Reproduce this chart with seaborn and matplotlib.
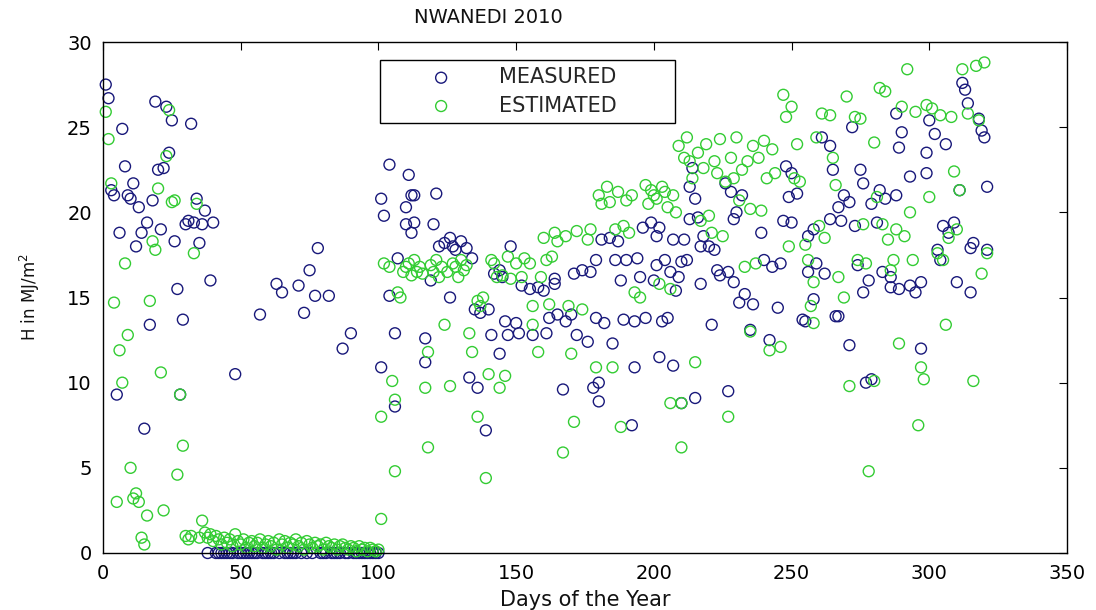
import numpy as np
import pandas as pd
import matplotlib
matplotlib.use("Agg")
import matplotlib.pyplot as plt
import seaborn as sns

# ---------------- data ----------------
title = "NWANEDI 2010"
series_names = ["MEASURED", "ESTIMATED"]
x_ticks = [0, 50, 100, 150, 200, 250, 300, 350]
y_ticks = [0, 5, 10, 15, 20, 25, 30]

# measured, days 1..37
meas_early_h = [27.5, 26.7, 21.3, 21.0, 9.3, 18.8, 24.9, 22.7, 21.0, 20.8,
                21.7, 18.0, 20.3, 18.8, 7.3, 19.4, 13.4, 20.7, 26.5, 22.5,
                19.0, 22.6, 26.2, 23.5, 25.4, 18.3, 15.5, 9.3, 13.7, 19.3,
                19.5, 25.2, 19.4, 20.8, 18.2, 19.3, 20.1]
# measured, days 38..100 (mostly zero)
meas_mid_h = [0, 16.0, 19.4, 0, 0, 0, 0, 0, 0, 0,
              10.5, 0, 0, 0, 0, 0, 0, 0, 0, 14.0,
              0, 0, 0, 0, 0, 15.8, 0, 15.3, 0, 0,
              0, 0, 0, 15.7, 0, 14.1, 0, 16.6, 0, 15.1,
              17.9, 0, 0, 0, 15.1, 0, 0, 0, 0, 12.0,
              0, 0, 12.9, 0, 0, 0, 0, 0, 0, 0,
              0, 0, 0]
# measured, days 101..321
meas_late_day = [101, 101, 102, 104, 104, 106, 106, 107, 110, 110,
                 111, 112, 113, 112, 113, 117, 117, 119, 120, 121,
                 122, 124, 126, 127, 128, 126, 130, 132, 133, 134,
                 135, 136, 137, 139, 140, 141, 142, 144, 144, 145,
                 146, 147, 148, 150, 151, 152, 155, 156, 158, 160,
                 161, 162, 164, 164, 165, 167, 168, 170, 171, 172,
                 174, 176, 177, 178, 179, 179, 180, 180, 181, 182,
                 184, 185, 186, 187, 188, 189, 190, 192, 193, 193,
                 194, 195, 196, 197, 199, 200, 201, 201, 202, 202,
                 203, 204, 205, 206, 207, 207, 208, 209, 210, 210,
                 211, 212, 213, 213, 214, 215, 215, 216, 217, 217,
                 218, 220, 221, 222, 223, 224, 226, 227, 227, 228,
                 229, 229, 230, 231, 232, 233, 235, 236, 239, 240,
                 242, 243, 245, 246, 247, 248, 249, 250, 250, 252,
                 254, 255, 256, 256, 258, 258, 259, 261, 262, 264,
                 264, 265, 266, 267, 267, 268, 269, 271, 271, 272,
                 273, 274, 275, 276, 276, 277, 278, 279, 279, 281,
                 282, 283, 284, 286, 286, 288, 288, 289, 289, 290,
                 293, 293, 295, 297, 297, 299, 299, 300, 302, 303,
                 304, 305, 306, 307, 309, 310, 311, 312, 313, 314,
                 315, 315, 316, 318, 319, 320, 321, 321]
meas_late_h = [10.9, 20.8, 19.8, 22.8, 15.1, 12.9, 8.6, 17.3, 20.3, 19.3,
               22.2, 21.0, 21.0, 18.8, 19.4, 12.6, 11.2, 16.0, 19.3, 21.1,
               18.0, 18.2, 18.5, 18.0, 17.8, 15.0, 18.3, 17.9, 10.3, 17.3,
               14.3, 9.7, 14.1, 7.2, 14.3, 12.8, 16.4, 16.6, 11.7, 16.2,
               13.6, 12.8, 18.0, 13.5, 12.9, 15.7, 15.5, 12.8, 15.6, 15.4,
               12.9, 13.8, 16.1, 15.8, 14.0, 9.6, 13.6, 14.0, 16.4, 12.8,
               16.6, 12.4, 16.5, 9.7, 17.2, 13.8, 10.0, 8.9, 18.4, 13.5,
               18.5, 12.3, 17.2, 18.3, 16.0, 13.7, 17.2, 7.5, 10.9, 13.6,
               17.3, 16.2, 19.1, 13.8, 19.4, 16.0, 18.6, 16.9, 19.1, 11.5,
               13.6, 17.2, 13.8, 16.5, 11.0, 18.4, 15.4, 16.2, 17.1, 8.8,
               18.4, 17.2, 19.6, 21.5, 22.6, 9.1, 20.8, 19.7, 15.8, 18.0,
               18.6, 18.0, 13.4, 17.8, 16.6, 16.3, 21.7, 9.5, 16.5, 21.2,
               19.6, 15.9, 20.0, 14.7, 21.0, 15.2, 13.1, 14.6, 18.8, 17.2,
               12.5, 16.8, 14.4, 17.0, 19.5, 22.7, 20.9, 22.3, 19.4, 21.1,
               13.7, 13.6, 18.6, 16.5, 19.0, 14.9, 17.0, 24.4, 16.4, 23.9,
               19.6, 22.5, 13.9, 20.3, 13.9, 19.5, 21.0, 20.6, 12.2, 25.0,
               19.2, 16.9, 22.5, 21.7, 15.3, 10.0, 16.0, 10.2, 20.5, 19.4,
               21.3, 16.5, 20.8, 15.6, 16.2, 25.8, 21.0, 15.5, 23.8, 24.7,
               22.1, 15.7, 15.3, 12.0, 15.9, 22.3, 23.5, 25.4, 24.6, 17.8,
               17.2, 19.2, 24.0, 18.8, 19.4, 15.9, 21.3, 27.6, 27.2, 26.4,
               17.9, 15.3, 18.2, 25.5, 24.8, 24.4, 21.5, 17.8]

# estimated, days 1..36
est_early_h = [25.9, 24.3, 21.7, 14.7, 3.0, 11.9, 10.0, 17.0, 12.8, 5.0,
               3.2, 3.5, 3.0, 0.9, 0.5, 2.2, 14.8, 18.3, 17.8, 21.4,
               10.6, 2.5, 23.3, 26.0, 20.6, 20.7, 4.6, 9.3, 6.3, 1.0,
               0.8, 1.0, 17.6, 20.5, 0.9, 1.9]
# estimated, days 37..100 (low band)
est_mid_h = [1.2, 0.9, 1.1, 0.7, 1.0, 0.8, 0.5, 0.9, 0.6, 0.8,
             0.4, 1.1, 0.7, 0.5, 0.8, 0.3, 0.6, 0.7, 0.4, 0.6,
             0.8, 0.3, 0.5, 0.7, 0.4, 0.6, 0.2, 0.8, 0.5, 0.7,
             0.3, 0.6, 0.5, 0.8, 0.4, 0.6, 0.2, 0.7, 0.5, 0.3,
             0.6, 0.4, 0.5, 0.2, 0.6, 0.4, 0.3, 0.5, 0.2, 0.4,
             0.5, 0.3, 0.2, 0.4, 0.3, 0.1, 0.4, 0.2, 0.3, 0.1,
             0.3, 0.2, 0.1, 0.2]
# estimated, days 101..321
est_late_day = [101, 101, 102, 104, 105, 106, 106, 107, 108, 109,
                110, 111, 112, 113, 114, 115, 116, 117, 118, 118,
                119, 120, 121, 122, 123, 124, 125, 126, 127, 128,
                129, 130, 131, 132, 133, 134, 136, 136, 137, 138,
                139, 140, 141, 142, 143, 144, 145, 146, 147, 148,
                150, 152, 153, 155, 156, 156, 158, 159, 160, 161,
                162, 163, 164, 165, 167, 168, 169, 170, 171, 172,
                174, 176, 177, 179, 180, 181, 183, 184, 185, 186,
                187, 188, 189, 190, 191, 192, 193, 195, 197, 198,
                199, 200, 201, 202, 203, 204, 205, 206, 206, 207,
                208, 209, 210, 210, 211, 212, 213, 214, 215, 216,
                217, 218, 219, 220, 221, 222, 223, 224, 225, 226,
                227, 228, 229, 230, 231, 232, 233, 234, 235, 235,
                236, 237, 238, 239, 240, 241, 242, 243, 244, 246,
                247, 248, 249, 250, 251, 252, 253, 255, 256, 257,
                258, 258, 259, 260, 261, 262, 264, 265, 266, 267,
                269, 270, 271, 273, 274, 275, 276, 277, 278, 280,
                280, 281, 282, 283, 284, 285, 286, 287, 288, 289,
                290, 291, 292, 293, 294, 295, 296, 297, 298, 299,
                300, 301, 303, 304, 305, 306, 307, 308, 309, 310,
                311, 312, 314, 316, 317, 318, 319, 320, 321]
est_late_h = [2.0, 8.0, 17.0, 16.8, 10.1, 9.0, 4.8, 15.3, 15.0, 16.5,
              16.8, 17.0, 16.3, 17.2, 16.5, 16.8, 16.4, 9.7, 11.8, 6.2,
              16.9, 16.5, 17.2, 16.2, 16.8, 13.4, 16.5, 9.8, 17.0, 16.8,
              16.2, 17.2, 16.6, 16.9, 12.9, 11.8, 8.0, 14.8, 14.5, 15.0,
              4.4, 10.5, 17.2, 17.0, 16.2, 9.7, 16.3, 10.4, 17.4, 16.1,
              17.0, 16.2, 17.3, 17.0, 13.4, 14.5, 11.8, 16.2, 18.5, 17.2,
              14.6, 17.4, 18.8, 18.3, 5.9, 18.6, 14.5, 11.7, 7.7, 18.9,
              14.3, 18.4, 19.0, 10.9, 21.0, 20.5, 21.5, 20.6, 10.9, 19.0,
              21.2, 7.4, 19.2, 20.7, 18.8, 21.0, 15.3, 15.0, 21.6, 20.5,
              21.3, 21.0, 20.8, 15.8, 21.5, 21.2, 20.3, 15.5, 8.8, 21.0,
              20.0, 23.9, 6.2, 8.8, 23.2, 24.4, 23.0, 22.0, 11.2, 23.5,
              19.5, 22.6, 24.0, 19.8, 18.8, 23.0, 22.3, 24.3, 18.6, 21.8,
              8.0, 23.2, 22.0, 24.4, 20.7, 22.5, 16.8, 23.0, 13.0, 20.2,
              23.9, 17.0, 23.2, 20.1, 24.2, 22.0, 11.9, 23.7, 22.3, 12.1,
              26.9, 25.6, 18.0, 26.2, 22.0, 24.0, 21.8, 18.1, 17.2, 14.5,
              15.9, 13.5, 24.4, 19.2, 25.8, 18.5, 25.7, 23.2, 21.6, 16.2,
              15.0, 26.8, 9.8, 25.6, 17.2, 25.5, 19.3, 17.0, 4.8, 24.1,
              10.1, 20.9, 27.3, 19.3, 27.1, 18.4, 16.6, 17.2, 19.0, 12.3,
              26.2, 18.6, 28.4, 20.0, 17.2, 25.9, 7.5, 10.9, 10.2, 26.3,
              20.9, 26.1, 17.6, 25.7, 17.2, 13.4, 18.5, 25.6, 22.4, 19.0,
              21.3, 28.4, 25.8, 10.1, 28.6, 25.4, 16.4, 28.8, 17.6]

# ---------------- assemble ----------------
meas_day = np.concatenate([np.arange(1, 1 + len(meas_early_h)),
                           np.arange(38, 38 + len(meas_mid_h)),
                           np.array(meas_late_day)])
meas_h = np.concatenate([meas_early_h, meas_mid_h, meas_late_h])
est_day = np.concatenate([np.arange(1, 1 + len(est_early_h)),
                          np.arange(37, 37 + len(est_mid_h)),
                          np.array(est_late_day)])
est_h = np.concatenate([est_early_h, est_mid_h, est_late_h])

df_meas = pd.DataFrame({"day": meas_day, "H": meas_h})
df_est = pd.DataFrame({"day": est_day, "H": est_h})

blue = "#18187a"
green = "#33cc33"

sns.set_theme(style="white")
plt.rcParams["font.family"] = ["DejaVu Sans"]
plt.rcParams["mathtext.fontset"] = "dejavusans"

fig = plt.figure(figsize=(10.96, 6.10), dpi=100)
W, Hh = 1096.0, 610.0
ax = fig.add_axes([103 / W, 1 - 553 / Hh, (1067 - 103) / W, (553 - 42) / Hh])

for df, col, name in [(df_meas, blue, series_names[0]), (df_est, green, series_names[1])]:
    sns.scatterplot(data=df, x="day", y="H", ax=ax, color=col, marker="o",
                    s=62, linewidth=1.0, label=name, clip_on=False, legend=False)
    coll = ax.collections[-1]
    coll.set_facecolor("none")
    coll.set_edgecolor(col)
    coll.set_linewidth(1.0)
    coll.set_label(name)

ax.set_xlim(0, 350)
ax.set_ylim(0, 30)
ax.set_xticks(x_ticks)
ax.set_yticks(y_ticks)
ax.tick_params(direction="in", length=6, width=0.8, top=True, right=True,
               labelsize=14, pad=8, colors="black")
for sp in ax.spines.values():
    sp.set_color("black")
    sp.set_linewidth(1.0)
    sp.set_visible(True)
ax.grid(False)

ax.set_title(title, fontsize=14, pad=14, color="#111111", x=0.40)
ax.set_xlabel("Days of the Year", fontsize=15, labelpad=5, color="#111111")
ax.set_ylabel("H in MJ/m$^2$", fontsize=12, labelpad=18, color="#111111")

leg = ax.legend(loc="upper left", bbox_to_anchor=(0.287, 0.840, 0.306, 0.125),
                mode="expand", borderaxespad=0, fontsize=15, frameon=True,
                fancybox=False, scatterpoints=1, handlelength=5.2,
                handletextpad=0.2, borderpad=0.35, labelspacing=0.4)
leg.get_frame().set_edgecolor("black")
leg.get_frame().set_linewidth(1.0)
leg.get_frame().set_facecolor("white")
leg.get_frame().set_alpha(1.0)

fig.savefig("out.png", dpi=100)
